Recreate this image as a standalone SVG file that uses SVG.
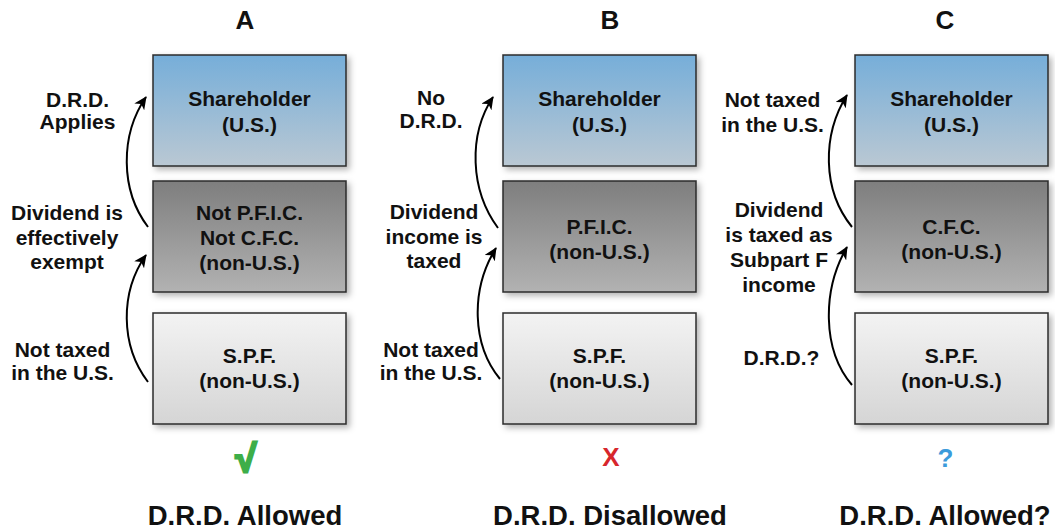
<svg xmlns="http://www.w3.org/2000/svg" width="1055" height="529" viewBox="0 0 1055 529">
<defs>
<linearGradient id="gBlue" x1="0" y1="0" x2="0" y2="1"><stop offset="0" stop-color="#76aed9"/><stop offset="1" stop-color="#bac8d3"/></linearGradient>
<linearGradient id="gDark" x1="0" y1="0" x2="0" y2="1"><stop offset="0" stop-color="#7e7e7e"/><stop offset="1" stop-color="#b2b2b2"/></linearGradient>
<linearGradient id="gLight" x1="0" y1="0" x2="0" y2="1"><stop offset="0" stop-color="#f3f3f3"/><stop offset="1" stop-color="#d5d5d5"/></linearGradient>
<filter id="sh" x="-10%" y="-10%" width="130%" height="130%"><feDropShadow dx="3" dy="3" stdDeviation="3" flood-color="#000" flood-opacity="0.3"/></filter>
<marker id="ah" markerUnits="userSpaceOnUse" markerWidth="14" markerHeight="12" refX="12" refY="6" orient="auto"><path d="M0,0 L13,6 L0,12 L3.5,6 Z" fill="#000"/></marker>
</defs>
<style>
text{font-family:"Liberation Sans",Arial,sans-serif;font-weight:bold;fill:#111;text-anchor:middle}
.lbl{font-size:21px}
.hd{font-size:26px}
.ft{font-size:27.5px}
.box{stroke:#2b2b2b;stroke-width:1.5;filter:url(#sh)}
.arr{fill:none;stroke:#000;stroke-width:2;marker-end:url(#ah)}
</style>
<g id="headers">
<text class="hd" x="245" y="29">A</text>
<text class="hd" x="610" y="29">B</text>
<text class="hd" x="945" y="29">C</text>
</g>
<g id="A-shareholder"><rect class="box" x="153" y="55" width="193" height="111" fill="url(#gBlue)"/><text class="lbl" x="249.5" y="106">Shareholder</text><text class="lbl" x="249.5" y="132">(U.S.)</text></g>
<g id="A-middle"><rect class="box" x="153" y="181" width="193" height="111" fill="url(#gDark)"/><text class="lbl" x="249.5" y="220">Not P.F.I.C.</text><text class="lbl" x="249.5" y="245">Not C.F.C.</text><text class="lbl" x="249.5" y="270">(non-U.S.)</text></g>
<g id="A-spf"><rect class="box" x="153" y="313" width="193" height="111" fill="url(#gLight)"/><text class="lbl" x="249.5" y="363">S.P.F.</text><text class="lbl" x="249.5" y="388">(non-U.S.)</text></g>
<g id="B-shareholder"><rect class="box" x="503" y="55" width="193" height="111" fill="url(#gBlue)"/><text class="lbl" x="599.5" y="106">Shareholder</text><text class="lbl" x="599.5" y="132">(U.S.)</text></g>
<g id="B-middle"><rect class="box" x="503" y="181" width="193" height="111" fill="url(#gDark)"/><text class="lbl" x="599.5" y="234">P.F.I.C.</text><text class="lbl" x="599.5" y="259">(non-U.S.)</text></g>
<g id="B-spf"><rect class="box" x="503" y="313" width="193" height="111" fill="url(#gLight)"/><text class="lbl" x="599.5" y="363">S.P.F.</text><text class="lbl" x="599.5" y="388">(non-U.S.)</text></g>
<g id="C-shareholder"><rect class="box" x="855" y="55" width="193" height="111" fill="url(#gBlue)"/><text class="lbl" x="951.5" y="106">Shareholder</text><text class="lbl" x="951.5" y="132">(U.S.)</text></g>
<g id="C-middle"><rect class="box" x="855" y="181" width="193" height="111" fill="url(#gDark)"/><text class="lbl" x="951.5" y="234">C.F.C.</text><text class="lbl" x="951.5" y="259">(non-U.S.)</text></g>
<g id="C-spf"><rect class="box" x="855" y="313" width="193" height="111" fill="url(#gLight)"/><text class="lbl" x="951.5" y="363">S.P.F.</text><text class="lbl" x="951.5" y="388">(non-U.S.)</text></g>
<g id="connectors">
<path class="arr" d="M148,227 C120,190 120,135 146,97"/>
<path class="arr" d="M148,382 C120,345 120,292 146,255"/>
<path class="arr" d="M498,228 C470,190 468,135 493,97"/>
<path class="arr" d="M500,379 C472,345 470,290 496,248"/>
<path class="arr" d="M852,227 C822,190 822,135 847,95"/>
<path class="arr" d="M852,385 C822,350 822,290 847,247"/>
</g>
<g id="labels">
<text class="lbl" x="77.5" y="107">D.R.D.</text><text class="lbl" x="77.5" y="129">Applies</text>
<text class="lbl" x="67" y="220">Dividend is</text><text class="lbl" x="67" y="245">effectively</text><text class="lbl" x="67" y="269">exempt</text>
<text class="lbl" x="62.5" y="357">Not taxed</text><text class="lbl" x="62.5" y="380">in the U.S.</text>
<text class="lbl" x="431" y="105">No</text><text class="lbl" x="431" y="128">D.R.D.</text>
<text class="lbl" x="434" y="219">Dividend</text><text class="lbl" x="434" y="244">income is</text><text class="lbl" x="434" y="268">taxed</text>
<text class="lbl" x="431" y="357">Not taxed</text><text class="lbl" x="431" y="380">in the U.S.</text>
<text class="lbl" x="772.5" y="107">Not taxed</text><text class="lbl" x="772.5" y="132">in the U.S.</text>
<text class="lbl" x="779" y="217">Dividend</text><text class="lbl" x="779" y="242">is taxed as</text><text class="lbl" x="779" y="267">Subpart F</text><text class="lbl" x="779" y="292">income</text>
<text class="lbl" x="781.5" y="365">D.R.D.?</text>
</g>
<g id="marks">
<text x="246" y="472" style="font-size:38px;fill:#3dae49;stroke:#3dae49;stroke-width:2.5">√</text>
<text x="611" y="466" style="font-size:26px;fill:#d7262c">X</text>
<text x="945.5" y="467" style="font-size:26px;fill:#3b9bdb">?</text>
</g>
<g id="footers">
<text class="ft" x="245" y="525">D.R.D. Allowed</text>
<text class="ft" x="610" y="525">D.R.D. Disallowed</text>
<text class="ft" x="945" y="525">D.R.D. Allowed?</text>
</g>
</svg>
